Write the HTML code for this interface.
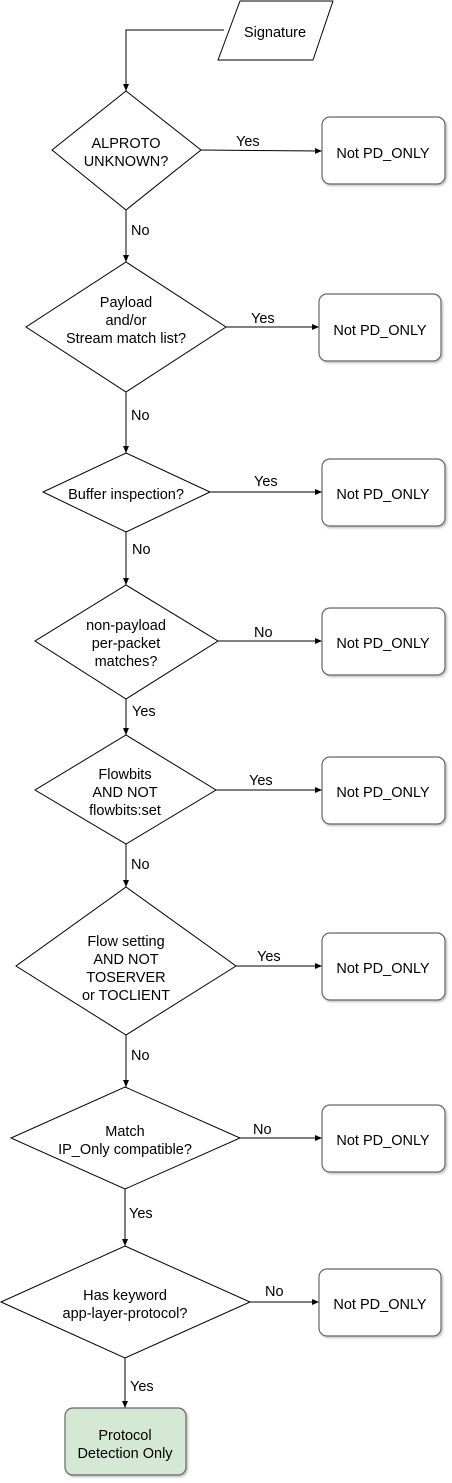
<!DOCTYPE html>
<html><head><meta charset="utf-8"><style>
html,body{margin:0;padding:0;background:#fff;}
svg{display:block;}
text{font-family:"Liberation Sans",sans-serif;font-size:14.5px;fill:#000;}
</style></head><body>
<svg width="452" height="1483" viewBox="0 0 452 1483" xmlns="http://www.w3.org/2000/svg">
<defs>
<marker id="a" markerWidth="8" markerHeight="8" refX="7" refY="4" orient="auto" markerUnits="userSpaceOnUse"><path d="M0,1 L7,4 L0,7 Z" fill="#000"/></marker>
<filter id="s" x="-10%" y="-10%" width="130%" height="130%"><feDropShadow dx="1.5" dy="1.5" stdDeviation="1" flood-color="#000" flood-opacity="0.25"/></filter>
</defs>
<g fill="none" stroke="#000" stroke-width="1">
<!-- signature -->
<polygon points="240,1 333,1 313,60 218,60" fill="#fff" stroke-linejoin="round"/>
<path d="M224,30 H126 V91" marker-end="url(#a)"/>
<!-- diamonds -->
<path d="M126,91 L201,150 L126,210 L52,150 Z" fill="#fff"/>
<path d="M126,262 L226,327 L126,392 L26,327 Z" fill="#fff"/>
<path d="M126,453 L210,492 L126,532 L43,492 Z" fill="#fff"/>
<path d="M126,585 L218,641 L126,699 L35,641 Z" fill="#fff"/>
<path d="M126,735 L216,790 L126,844 L35,790 Z" fill="#fff"/>
<path d="M126,887 L236,966 L126,1035 L16,966 Z" fill="#fff"/>
<path d="M125,1087 L240,1138 L125,1189 L11,1138 Z" fill="#fff"/>
<path d="M125,1246 L250,1302 L125,1358 L1,1302 Z" fill="#fff"/>
<!-- vertical arrows -->
<path d="M126,210 V262" marker-end="url(#a)"/>
<path d="M126,392 V453" marker-end="url(#a)"/>
<path d="M126,532 V585" marker-end="url(#a)"/>
<path d="M126,699 V735" marker-end="url(#a)"/>
<path d="M126,844 V887" marker-end="url(#a)"/>
<path d="M126,1035 V1087" marker-end="url(#a)"/>
<path d="M125,1189 V1246" marker-end="url(#a)"/>
<path d="M125,1358 V1408" marker-end="url(#a)"/>
<!-- horizontal arrows -->
<path d="M201,150 L322,151" marker-end="url(#a)"/>
<path d="M226,327 H319" marker-end="url(#a)"/>
<path d="M210,492 H322" marker-end="url(#a)"/>
<path d="M218,641 H322" marker-end="url(#a)"/>
<path d="M216,790 H322" marker-end="url(#a)"/>
<path d="M236,966 H322" marker-end="url(#a)"/>
<path d="M240,1138 H322" marker-end="url(#a)"/>
<path d="M250,1302 H319" marker-end="url(#a)"/>
</g>
<g fill="#fff" stroke="#666" stroke-width="1.2" filter="url(#s)">
<rect x="322" y="117" width="123" height="67" rx="8"/>
<rect x="319" y="294" width="122" height="67" rx="8"/>
<rect x="322" y="459" width="123" height="67" rx="8"/>
<rect x="322" y="608" width="123" height="67" rx="8"/>
<rect x="322" y="757" width="123" height="67" rx="8"/>
<rect x="322" y="933" width="123" height="67" rx="8"/>
<rect x="322" y="1105" width="123" height="67" rx="8"/>
<rect x="319" y="1269" width="122" height="67" rx="8"/>
<rect x="65" y="1408" width="121" height="67" rx="8" fill="#d5e8d4"/>
</g>
<g text-anchor="middle">
<text x="275" y="37">Signature</text>
<text x="383" y="158">Not PD_ONLY</text>
<text x="380" y="335">Not PD_ONLY</text>
<text x="383" y="499">Not PD_ONLY</text>
<text x="383" y="648">Not PD_ONLY</text>
<text x="383" y="797">Not PD_ONLY</text>
<text x="383" y="973">Not PD_ONLY</text>
<text x="383" y="1145">Not PD_ONLY</text>
<text x="380" y="1309">Not PD_ONLY</text>
<text x="125" y="1440">Protocol</text>
<text x="125" y="1458">Detection Only</text>
<text x="126" y="148">ALPROTO</text>
<text x="126" y="166">UNKNOWN?</text>
<text x="126" y="307">Payload</text>
<text x="126" y="325">and/or</text>
<text x="126" y="343">Stream match list?</text>
<text x="126" y="499">Buffer inspection?</text>
<text x="126" y="630">non-payload</text>
<text x="126" y="648">per-packet</text>
<text x="126" y="666">matches?</text>
<text x="125" y="779">Flowbits</text>
<text x="125" y="797">AND NOT</text>
<text x="125" y="815">flowbits:set</text>
<text x="126" y="946">Flow setting</text>
<text x="126" y="964">AND NOT</text>
<text x="126" y="982">TOSERVER</text>
<text x="126" y="1000">or TOCLIENT</text>
<text x="125" y="1136">Match</text>
<text x="125" y="1154">IP_Only compatible?</text>
<text x="125" y="1300">Has keyword</text>
<text x="125" y="1318">app-layer-protocol?</text>
</g>
<g>
<text x="236" y="146">Yes</text>
<text x="131" y="235">No</text>
<text x="251" y="323">Yes</text>
<text x="131" y="420">No</text>
<text x="254" y="486">Yes</text>
<text x="132" y="554">No</text>
<text x="254" y="637">No</text>
<text x="132" y="716">Yes</text>
<text x="249" y="785">Yes</text>
<text x="131" y="869">No</text>
<text x="257" y="961">Yes</text>
<text x="131" y="1060">No</text>
<text x="253" y="1134">No</text>
<text x="129" y="1218">Yes</text>
<text x="265" y="1296">No</text>
<text x="130" y="1391">Yes</text>
</g>
</svg>
</body></html>
